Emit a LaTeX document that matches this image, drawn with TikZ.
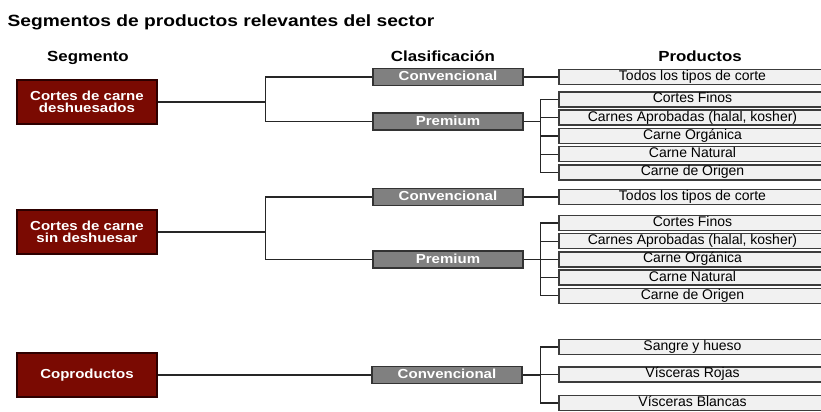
\documentclass[tikz,border=0pt]{standalone}
\usepackage{fontspec}
\setmainfont{Liberation Sans}
\newfontfamily\titlefont[FakeStretch=1.18]{Liberation Sans}
\newfontfamily\widefont[FakeStretch=1.15]{Liberation Sans}
\usepackage{tikz}
\definecolor{segred}{RGB}{122,10,2}
\definecolor{segedge}{RGB}{45,0,0}
\definecolor{clsgray}{RGB}{128,128,128}
\definecolor{prodfill}{RGB}{241,241,241}
\definecolor{prodedge}{RGB}{60,60,60}

\begin{document}
\begin{tikzpicture}[x=0.75pt,y=-0.75pt,line width=0.9pt,draw=black!85]
        \tikzstyle{segmento}=[draw=segedge,line width=1.1pt,fill=segred,text=white,
            minimum width=105pt,minimum height=33pt,inner sep=0pt,align=center,
            font=\widefont\bfseries\fontsize{9.8}{9}\selectfont]
        \tikzstyle{clase}=[draw=black!80,line width=1.1pt,fill=clsgray,text=white,
            minimum width=112.5pt,minimum height=12.5pt,inner sep=0pt,
            text height=7pt,text depth=1.5pt,
            font=\widefont\bfseries\fontsize{9.8}{10}\selectfont]
        \tikzstyle{prod}=[draw=prodedge,line width=1.1pt,fill=prodfill,
            minimum width=200pt,minimum height=11.25pt,inner sep=0pt,
            text height=7.4pt,text depth=2.3pt,
            font=\fontsize{10.5}{11}\selectfont]
        \tikzstyle{encabezado}=[anchor=base,font=\widefont\bfseries\fontsize{11}{12}\selectfont]
        \useasboundingbox (0,0) rectangle (821,411);
        \clip (0,0) rectangle (821,411);
        \fill[white] (0,0) rectangle (821,411);
    % titulo y encabezados
        \node[anchor=base west,inner sep=0pt,font=\titlefont\bfseries\fontsize{12.2}{14}\selectfont] (titulo) at (7,26.5) {Segmentos de productos relevantes del sector};
        \node[encabezado] (hseg) at (88,61) {Segmento};
        \node[encabezado] (hcla) at (443,61) {Clasificación};
        \node[encabezado] (hpro) at (700,61) {Productos};
    % segmentos
        \node[segmento] (seg1) at (87,102) {Cortes de carne\\deshuesados};
        \node[segmento] (seg2) at (87,232) {Cortes de carne\\sin deshuesar};
        \node[segmento] (seg3) at (87,375) {Coproductos};
    % clasificacion
        \node[clase] (conv1) at (448,77) {Convencional};
        \node[clase] (prem1) at (448,121.5) {Premium};
        \node[clase] (conv2) at (448,197) {Convencional};
        \node[clase] (prem2) at (448,259.5) {Premium};
        \node[clase] (conv3) at (447,375) {Convencional};
    % productos
        \node[prod] (todo1) at (692.5,77) {Todos los tipos de corte};
        \node[prod] (todo2) at (692.5,197) {Todos los tipos de corte};
        \foreach \y/\g in {99.5/1,223/2} {
            \node[prod] (fin\g) at (692.5,\y) {Cortes Finos};
            \node[prod] (apr\g) at (692.5,\y+18.2) {Carnes Aprobadas (halal, kosher)};
            \node[prod] (org\g) at (692.5,\y+36.4) {Carne Orgánica};
            \node[prod] (nat\g) at (692.5,\y+54.6) {Carne Natural};
            \node[prod] (ori\g) at (692.5,\y+72.8) {Carne de Origen};
        }
        \node[prod] (san3) at (692.5,347) {Sangre y hueso};
        \node[prod] (roj3) at (692.5,374.5) {Vísceras Rojas};
        \node[prod] (bla3) at (692.5,403) {Vísceras Blancas};
    % conectores
        \draw (seg1.east) -- ++(108,0) coordinate (b1) |- (conv1.west);
        \draw (b1) |- (prem1.west);
        \draw (seg2.east) -- ++(108,0) coordinate (b2) |- (conv2.west);
        \draw (b2) |- (prem2.west);
        \draw (seg3.east) -- (conv3.west);
        \draw (conv1.east) -- (todo1.west);
        \draw (conv2.east) -- (todo2.west);
        \foreach \g in {1,2} {
            \draw (prem\g.east) -- ++(17,0) coordinate (p\g);
            \foreach \n in {fin,apr,org,nat,ori}
                \draw (p\g) |- (\n\g.west);
        }
        \draw (conv3.east) -- ++(18,0) coordinate (p3);
        \foreach \n in {san3,roj3,bla3}
            \draw (p3) |- (\n.west);
    \end{tikzpicture}
\end{document}
